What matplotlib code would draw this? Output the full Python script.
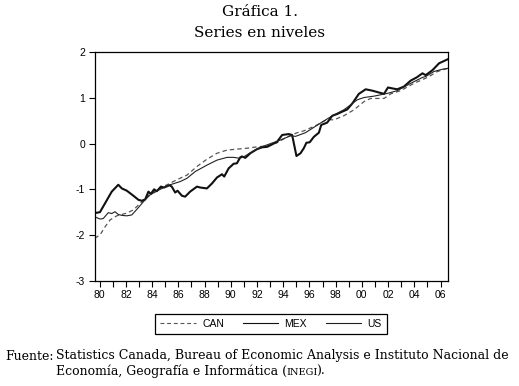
import matplotlib
matplotlib.use("Agg")
import matplotlib.pyplot as plt

# series (year, level)
can_t = [1979.62, 1980.02, 1980.41, 1980.79, 1981.30, 1982.07, 1982.57, 1983.22, 1983.85,
         1984.86, 1985.89, 1986.65, 1987.42, 1988.18, 1988.95, 1989.72, 1990.47, 1991.24,
         1992.00, 1992.77, 1993.53, 1994.30, 1995.07, 1995.57, 1996.59, 1997.35, 1997.86,
         1998.62, 1999.39, 2000.16, 2000.67, 2001.69, 2002.20, 2002.96, 2003.97, 2005.00,
         2005.77, 2006.57]
can_v = [-2.07, -2.00, -1.82, -1.67, -1.58, -1.52, -1.45, -1.27, -1.10,
         -0.94, -0.79, -0.69, -0.50, -0.34, -0.21, -0.14, -0.12, -0.10,
         -0.07, -0.05, 0.02, 0.15, 0.24, 0.28, 0.41, 0.53, 0.52,
         0.61, 0.74, 0.92, 0.99, 0.99, 1.09, 1.16, 1.32, 1.45,
         1.58, 1.65]

mex_t = [1979.62, 1980.02, 1980.92, 1981.42, 1981.69, 1982.07, 1982.57, 1982.96, 1983.22,
         1983.47, 1983.72, 1983.90, 1984.15, 1984.36, 1984.67, 1984.92, 1985.32, 1985.50,
         1985.76, 1985.94, 1986.27, 1986.52, 1986.90, 1987.42, 1987.67, 1988.18, 1988.57,
         1988.95, 1989.33, 1989.50, 1989.84, 1990.22, 1990.47, 1990.72, 1990.85, 1991.11,
         1991.49, 1992.00, 1992.39, 1992.77, 1993.02, 1993.53, 1993.92, 1994.42, 1994.68,
         1995.01, 1995.32, 1995.57, 1995.77, 1996.02, 1996.34, 1996.72, 1996.90, 1997.35,
         1997.74, 1998.12, 1998.50, 1998.89, 1999.27, 1999.77, 2000.29, 2000.80, 2001.30,
         2001.69, 2001.99, 2002.32, 2002.70, 2003.21, 2003.72, 2004.18, 2004.62, 2004.87,
         2005.39, 2005.89, 2006.27, 2006.57]
mex_v = [-1.52, -1.50, -1.05, -0.90, -0.98, -1.03, -1.14, -1.23, -1.25,
         -1.22, -1.05, -1.10, -1.00, -1.04, -0.94, -0.96, -0.91, -0.94,
         -1.07, -1.03, -1.14, -1.16, -1.05, -0.94, -0.96, -0.98, -0.87,
         -0.74, -0.67, -0.72, -0.54, -0.44, -0.43, -0.30, -0.28, -0.31,
         -0.21, -0.12, -0.08, -0.07, -0.035, 0.04, 0.19, 0.21, 0.19,
         -0.27, -0.21, -0.10, 0.02, 0.03, 0.15, 0.24, 0.41, 0.46,
         0.61, 0.65, 0.70, 0.75, 0.88, 1.09, 1.19, 1.16, 1.12,
         1.09, 1.23, 1.21, 1.19, 1.25, 1.38, 1.45, 1.54, 1.50,
         1.61, 1.76, 1.81, 1.85]

us_t = [1979.62, 1980.02, 1980.27, 1980.66, 1980.92, 1981.17, 1981.42, 1981.69, 1982.07,
        1982.45, 1982.83, 1983.34, 1983.85, 1984.61, 1985.37, 1986.14, 1986.65, 1987.29,
        1988.18, 1988.95, 1989.72, 1990.22, 1990.67, 1990.98, 1991.49, 1992.26, 1993.02,
        1993.79, 1994.55, 1994.94, 1995.70, 1996.84, 1997.74, 1998.62, 1999.14, 1999.65,
        2000.16, 2000.92, 2001.43, 2001.94, 2002.70, 2003.72, 2004.62, 2004.87, 2005.50,
        2006.15, 2006.57]
us_v = [-1.60, -1.65, -1.64, -1.51, -1.53, -1.49, -1.55, -1.57, -1.58,
        -1.56, -1.44, -1.27, -1.12, -1.00, -0.90, -0.83, -0.76, -0.61,
        -0.47, -0.36, -0.30, -0.30, -0.32, -0.29, -0.20, -0.08, 0.00,
        0.08, 0.17, 0.16, 0.24, 0.45, 0.61, 0.74, 0.85, 0.96,
        1.01, 1.04, 1.07, 1.10, 1.16, 1.32, 1.45, 1.47, 1.58,
        1.63, 1.65]

years = list(range(1980, 2007))
year_labels = [str(y)[2:] if y % 2 == 0 else "" for y in years]
y_ticks = [-3, -2, -1, 0, 1, 2]

serif = "DejaVu Serif"
sans = "Liberation Sans"

fig = plt.figure(figsize=(5.19, 3.86), dpi=100)
ax = fig.add_axes([94.7 / 519, 105.3 / 386, 353.3 / 519, 228.4 / 386])

ax.plot(can_t, can_v, color="#555555", lw=0.9, linestyle=(0, (3.5, 2.5)), label="CAN")
ax.plot(mex_t, mex_v, color="#111111", lw=1.5, label="MEX")
ax.plot(us_t, us_v, color="#222222", lw=0.8, label="US")

ax.set_xlim(1979.62, 2006.57)
ax.set_ylim(-3, 2)
ax.set_xticks(years)
ax.set_xticklabels(year_labels, fontfamily=sans, fontsize=7.5)
ax.set_yticks(y_ticks)
ax.set_yticklabels([str(v) for v in y_ticks], fontfamily=sans, fontsize=7.5)
ax.tick_params(axis="x", direction="out", length=4.5, width=0.8, pad=2)
ax.tick_params(axis="y", direction="out", length=4.5, width=0.8, pad=2.5)
for s in ax.spines.values():
    s.set_linewidth(0.9)

h, l = ax.get_legend_handles_labels()
leg = fig.legend(h, l, loc="center", bbox_to_anchor=(271 / 519, 1 - 324 / 386), ncol=3,
                 fancybox=False, edgecolor="black", framealpha=1, handlelength=3.4,
                 columnspacing=1.8, handletextpad=0.6, borderpad=0.5,
                 prop={"family": sans, "size": 7.5})
leg.get_frame().set_linewidth(0.9)
for line in leg.get_lines():
    line.set_linewidth(0.8)

fig.text(259.5 / 519, 1 - 15.5 / 386, "Gráfica 1.", ha="center", va="baseline",
         fontfamily=serif, fontsize=11)
fig.text(259.5 / 519, 1 - 37 / 386, "Series en niveles", ha="center", va="baseline",
         fontfamily=serif, fontsize=11)

fs = 9
fig.text(5 / 519, 1 - 359.5 / 386, "Fuente:", ha="left", va="baseline",
         fontfamily=serif, fontsize=fs)
fig.text(56 / 519, 1 - 359.5 / 386,
         "Statistics Canada, Bureau of Economic Analysis e Instituto Nacional de",
         ha="left", va="baseline", fontfamily=serif, fontsize=fs)

# second line, with INEGI in small capitals
renderer = fig.canvas.get_renderer()
x0 = 56 / 519
yb = 1 - 375 / 386
for piece, size in [("Economía, Geografía e Informática (", fs), ("INEGI", fs * 0.78), (").", fs)]:
    t = fig.text(x0, yb, piece, ha="left", va="baseline", fontfamily=serif, fontsize=size)
    bb = t.get_window_extent(renderer=renderer)
    x0 += (bb.width - 1.0) / fig.bbox.width

fig.savefig("out.png", dpi=100)
